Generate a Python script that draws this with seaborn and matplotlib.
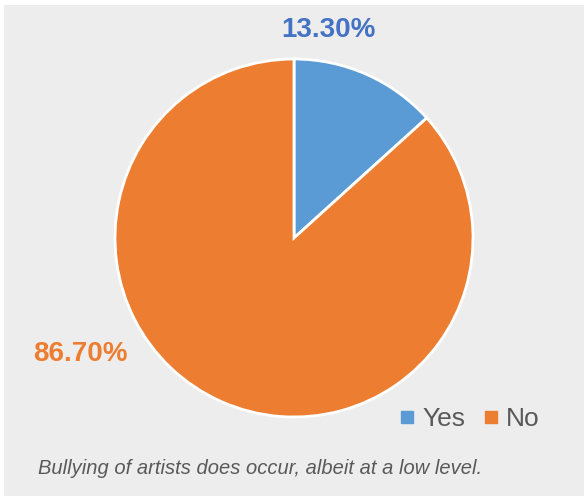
import matplotlib
matplotlib.use("Agg")
import matplotlib.pyplot as plt
from matplotlib.patches import Rectangle
from matplotlib.lines import Line2D
import seaborn as sns

# Survey answers
categories = ["Yes", "No"]
shares = [13.30, 86.70]
label_text = ["13.30%", "86.70%"]
caption = "Bullying of artists does occur, albeit at a low level."

sns.set_theme(style="white")
plt.rcParams["font.family"] = ["Liberation Sans", "DejaVu Sans"]

slice_colors = ["#5B9BD5", "#ED7D31"]
label_colors = ["#4472C4", "#ED7D31"]
bg = "#EDEDED"
W, H = 584, 496
fig = plt.figure(figsize=(W / 100, H / 100), dpi=100, facecolor="white")
fig.patches.append(Rectangle((4 / W, 0), 1, 1 - 5 / H, transform=fig.transFigure,
                             facecolor=bg, edgecolor="none", zorder=-10))

cx, cy, R = 294, 238, 179
ax = fig.add_axes([(cx - 180) / W, (H - cy - 180) / H, 360 / W, 360 / H])
ax.set_facecolor("none")
wedges, _ = ax.pie(shares, colors=slice_colors, startangle=90, counterclock=False,
                   radius=R / 180,
                   wedgeprops=dict(edgecolor="white", linewidth=2.0))
ax.set_xlim(-1, 1)
ax.set_ylim(-1, 1)
ax.set_aspect("equal")
ax.axis("off")

# Percentage labels outside the slices
label_pos = [(0.194, 1.156), (-1.189, -0.644)]
for txt, (x, y), c in zip(label_text, label_pos, label_colors):
    ax.text(x, y, txt, ha="center", va="center", fontsize=20, fontweight="heavy",
            color=c, clip_on=False)

handles = [Line2D([], [], marker="s", linestyle="none", markersize=8,
                  markerfacecolor=c, markeredgecolor=c) for c in slice_colors]
fig.legend(handles, categories, loc="center", bbox_to_anchor=(470 / W, 1 - 419 / H),
           ncol=2, frameon=False, fontsize=19, handlelength=0.5, handletextpad=0.35,
           columnspacing=0.7, labelcolor="#595959")

fig.text(38 / W, 1 - 468 / H, caption, ha="left", va="center", fontsize=14.5,
         style="italic", color="#595959")

fig.savefig("out.png", dpi=100, facecolor=fig.get_facecolor())
